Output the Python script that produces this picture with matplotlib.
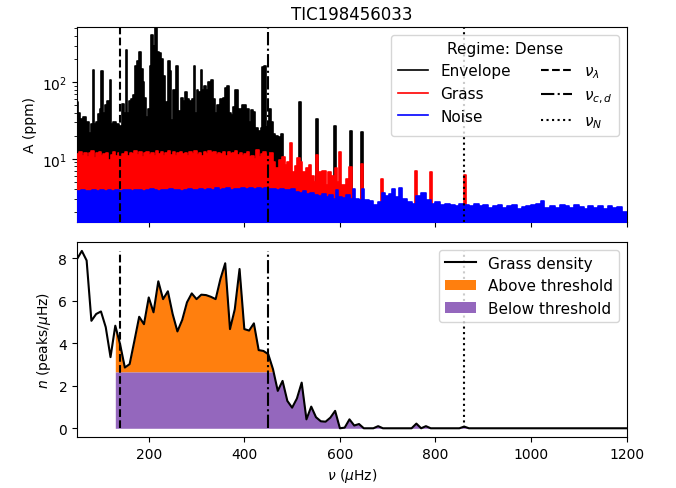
import numpy as np
import matplotlib
matplotlib.use("Agg")
import matplotlib.pyplot as plt

title = "TIC198456033"

# ---- top panel: piecewise-constant spectra (start frequency of each bin, amplitude in ppm)
env_f = [50, 53, 57, 63, 68, 74, 79, 83, 86, 90, 94, 97, 101, 104, 108, 112, 116, 119, 122, 126,
         132, 138, 144, 148, 152, 155, 159, 163, 167, 172, 176, 180, 183, 187, 191, 195, 198, 202,
         205, 208, 211, 214, 217, 221, 226, 230, 234, 238, 241, 245, 247, 250, 254, 257, 261, 264,
         268, 272, 276, 280, 285, 290, 294, 297, 300, 304, 309, 312, 316, 320, 325, 330, 334, 338,
         342, 346, 350, 355, 360, 364, 368, 372, 377, 381, 386, 392, 395, 399, 404, 410, 414, 418,
         422, 428, 434, 438, 442, 445, 448, 452, 456, 460, 465, 470, 476, 480, 514, 518, 550, 554,
         588, 592, 622, 625, 644, 648, 1200]
env_a = [55, 40, 33, 35, 30, 22, 28, 145, 28, 30, 38, 44, 140, 40, 50, 56, 30, 106, 28, 30,
         28, 27, 52, 40, 260, 40, 56, 60, 68, 160, 190, 245, 150, 100, 62, 35, 45, 160,
         410, 300, 200, 600, 250, 240, 200, 120, 55, 50, 190, 140, 32, 80, 30, 160, 38, 42,
         62, 56, 75, 60, 56, 60, 164, 40, 80, 75, 145, 80, 88, 80, 100, 105, 60, 40,
         50, 30, 61, 62, 85, 88, 40, 37, 48, 79, 45, 35, 50, 51, 44, 30, 43, 41,
         25, 23, 25, 157, 160, 25, 26, 45, 30, 21, 20, 19, 21, 1, 55, 1, 33, 1,
         27, 1, 23, 1, 22.5, 1, 1]

grass_f = [50, 55, 60, 65, 70, 75, 80, 85, 90, 95, 100, 105, 110, 115, 120, 125, 130, 135, 140, 145,
           150, 155, 160, 165, 170, 175, 180, 185, 190, 195, 200, 205, 210, 215, 220, 225, 230, 235,
           240, 245, 250, 255, 260, 265, 270, 275, 280, 285, 290, 295, 300, 305, 310, 315, 320, 325,
           330, 335, 340, 345, 350, 355, 360, 365, 370, 375, 380, 385, 390, 395, 400, 405, 410, 415,
           420, 425, 430, 435, 440, 445, 450, 455, 460, 465, 472, 479, 485, 490, 495, 499, 505, 510,
           516, 521, 528, 535, 540, 545, 550, 555, 563, 570, 575, 582, 589, 594, 599, 603, 612, 620,
           626, 644, 649, 686, 690, 758, 762, 789, 793, 859, 863, 1200]
grass_a = [11.5, 12.3, 11.0, 12.0, 10.5, 11.8, 12.5, 10.2, 11.8, 12.2, 10.8, 11.5, 12.0, 9.5, 11.2, 12.4,
           11.0, 12.0, 10.5, 11.6, 12.3, 11.0, 12.0, 11.4, 12.6, 11.2, 12.2, 10.6, 11.8, 12.4, 11.3,
           12.0, 10.8, 12.5, 11.6, 12.2, 11.0, 12.0, 12.6, 11.2, 12.3, 10.9, 11.8, 12.4, 11.5, 12.0,
           11.0, 12.2, 11.7, 12.5, 11.3, 12.0, 10.9, 12.3, 11.5, 12.6, 11.8, 12.4, 11.2, 12.0, 11.6,
           12.2, 11.0, 12.4, 11.5, 12.0, 12.5, 11.3, 12.0, 10.8, 11.6, 12.2, 10.5, 11.0, 10.0, 13.0,
           10.6, 11.5, 12.2, 11.4, 12.0, 11.9, 9.0, 7.6, 9.5, 10.7, 8.4, 9.0, 16.0, 6.8, 8.0, 10.2,
           9.0, 6.8, 7.5, 8.4, 6.0, 5.0, 11.3, 6.8, 7.0, 4.6, 6.8, 6.0, 7.6, 5.0, 12.4, 4.6, 5.5, 7.9,
           1, 8.6, 1, 5.5, 1, 7.0, 1, 6.7, 1, 6.2, 1, 1]

noise_f = [50, 58, 66, 74, 82, 90, 98, 106, 114, 122, 130, 138, 146, 154, 162, 170, 178, 186, 194,
           202, 210, 218, 226, 234, 242, 250, 258, 266, 274, 282, 290, 298, 306, 314, 322, 330, 338,
           346, 354, 362, 370, 378, 386, 394, 402, 410, 418, 426, 434, 442, 450, 458, 466, 474, 482,
           490, 498, 506, 514, 522, 530, 538, 546, 554, 562, 570, 578, 586, 592, 597, 605, 613, 621,
           628, 632, 640, 646, 650, 660, 670, 680, 688, 695, 702, 710, 716, 724, 730, 740, 750, 760,
           770, 780, 790, 800, 810, 820, 830, 840, 850, 860, 870, 880, 890, 900, 910, 920, 930, 940,
           950, 960, 970, 980, 990, 1000, 1010, 1020, 1028, 1040, 1050, 1060, 1070, 1080, 1090, 1100,
           1110, 1120, 1130, 1140, 1150, 1160, 1170, 1180, 1190, 1200]
noise_a = [3.8, 3.9, 3.75, 3.85, 3.9, 3.8, 3.95, 3.85, 3.9, 3.8, 3.9, 3.85, 3.95, 3.9, 3.8, 3.9, 3.95,
           3.85, 3.9, 4.0, 3.9, 3.85, 3.95, 3.9, 4.0, 3.9, 3.95, 3.85, 3.95, 4.0, 3.9, 3.95, 4.05, 3.9,
           4.0, 3.95, 4.1, 3.95, 4.0, 4.1, 3.95, 4.05, 4.0, 4.2, 4.0, 4.1, 4.0, 4.15, 4.0, 4.1, 4.05,
           4.0, 3.9, 4.05, 3.95, 3.9, 4.0, 3.7, 3.6, 3.75, 3.5, 3.6, 3.4, 3.3, 3.5, 3.2, 3.4, 3.0, 3.9,
           3.2, 3.1, 3.4, 3.0, 4.0, 3.0, 2.9, 4.0, 2.9, 2.8, 2.5, 2.7, 3.6, 3.3, 3.5, 4.0, 3.2, 4.2,
           3.0, 2.7, 2.6, 3.3, 3.6, 2.9, 2.6, 2.7, 2.5, 2.6, 2.5, 2.4, 2.6, 2.5, 2.45, 2.55, 2.4, 2.5,
           2.3, 2.45, 2.5, 2.3, 2.4, 2.5, 2.2, 2.35, 2.4, 2.5, 2.6, 2.8, 2.3, 2.4, 2.3, 2.5, 2.4, 2.3,
           2.5, 2.35, 2.2, 2.4, 2.3, 2.45, 2.2, 2.4, 2.3, 2.35, 2.0, 2.0]

# ---- bottom panel: grass density
dens_f = [50, 60, 70, 80, 90, 100, 110, 120, 130, 140, 150, 160, 170, 180, 190, 200, 210, 220, 230,
          240, 250, 260, 270, 280, 290, 300, 310, 320, 330, 340, 350, 360, 370, 380, 390, 400, 410,
          420, 430, 440, 450, 460, 470, 480, 490, 500, 510, 520, 530, 540, 550, 560, 570, 580, 590,
          600, 610, 620, 630, 640, 650, 660, 670, 680, 690, 700, 750, 760, 770, 780, 790, 850, 860,
          870, 1200]
dens_n = [7.97, 8.35, 7.9, 5.06, 5.38, 5.5, 4.76, 3.35, 4.83, 3.96, 2.86, 3.02, 4.12, 5.25, 4.9,
          6.16, 5.46, 6.92, 6.08, 6.45, 5.38, 4.56, 5.1, 5.93, 6.35, 6.08, 6.29, 6.27, 6.19, 6.08,
          7.03, 7.77, 4.67, 5.6, 7.5, 4.67, 4.6, 4.94, 3.68, 3.64, 3.49, 2.78, 1.76, 2.23, 1.29,
          0.97, 1.4, 2.15, 0.42, 1.02, 0.52, 0.33, 0.31, 0.5, 0.82, 0.0, 0.03, 0.42, 0.13, 0.2, 0.0,
          0.0, 0.0, 0.1, 0.0, 0.0, 0.0, 0.22, 0.0, 0.1, 0.0, 0.0, 0.08, 0.0, 0.0]

threshold = 2.65
fill_start = 130
nu_lambda, nu_cd, nu_N = 140, 450, 860

fig, (ax1, ax2) = plt.subplots(2, 1, figsize=(6.76, 4.89), dpi=100, sharex=True)
fig.subplots_adjust(left=0.114, right=0.927, top=0.943, bottom=0.104, hspace=0.103)

for k, (f, a, c, lab) in enumerate([(env_f, env_a, 'k', 'Envelope'), (grass_f, grass_a, 'r', 'Grass'),
                                    (noise_f, noise_a, 'b', 'Noise')]):
    ax1.fill_between(f, 1.0, a, step='post', color=c, linewidth=0, zorder=1 + 2 * k)
    ax1.step(f, a, where='post', color=c, lw=1.2, label=lab, zorder=2 + 2 * k)

ax1.axvline(nu_lambda, color='k', ls='--', lw=1.5, label=r'$\nu_\lambda$', zorder=8)
ax1.axvline(nu_cd, color='k', ls='-.', lw=1.5, label=r'$\nu_{c,d}$', zorder=8)
ax1.axvline(nu_N, color='k', ls=':', lw=1.5, label=r'$\nu_N$', zorder=8)
ax1.set_yscale('log')
ax1.set_ylim(1.5, 525)
ax1.set_xlim(50, 1200)
ax1.set_ylabel('A (ppm)')
ax1.set_title(title)
leg1 = ax1.legend(loc='upper right', ncol=2, title='Regime: Dense', fontsize=11, title_fontsize=11)
leg1.set_zorder(10)

f = np.array(dens_f, dtype=float)
n = np.array(dens_n)
ax2.fill_between(f, threshold, n, where=(f >= fill_start) & (n > threshold),
                 color='C1', linewidth=0, label='Above threshold')
ax2.fill_between(f, 0, np.minimum(n, threshold), where=f >= fill_start, color='C4', linewidth=0,
                 label='Below threshold')
ax2.plot(f, n, color='k', lw=1.5, label='Grass density', zorder=3)
ax2.vlines([nu_lambda], 0, n.max(), colors='k', linestyles='--', lw=1.5)
ax2.vlines([nu_cd], 0, n.max(), colors='k', linestyles='-.', lw=1.5)
ax2.vlines([nu_N], 0, n.max(), colors='k', linestyles=':', lw=1.5)
h, l = ax2.get_legend_handles_labels()
order = [l.index('Grass density'), l.index('Above threshold'), l.index('Below threshold')]
ax2.legend([h[i] for i in order], [l[i] for i in order], loc='upper right', fontsize=11)
ax2.set_xlim(50, 1200)
ax2.set_ylabel(r'$n$ (peaks/$\mu$Hz)')
ax2.set_xlabel(r'$\nu$ ($\mu$Hz)')

fig.savefig('out.png', dpi=100)
